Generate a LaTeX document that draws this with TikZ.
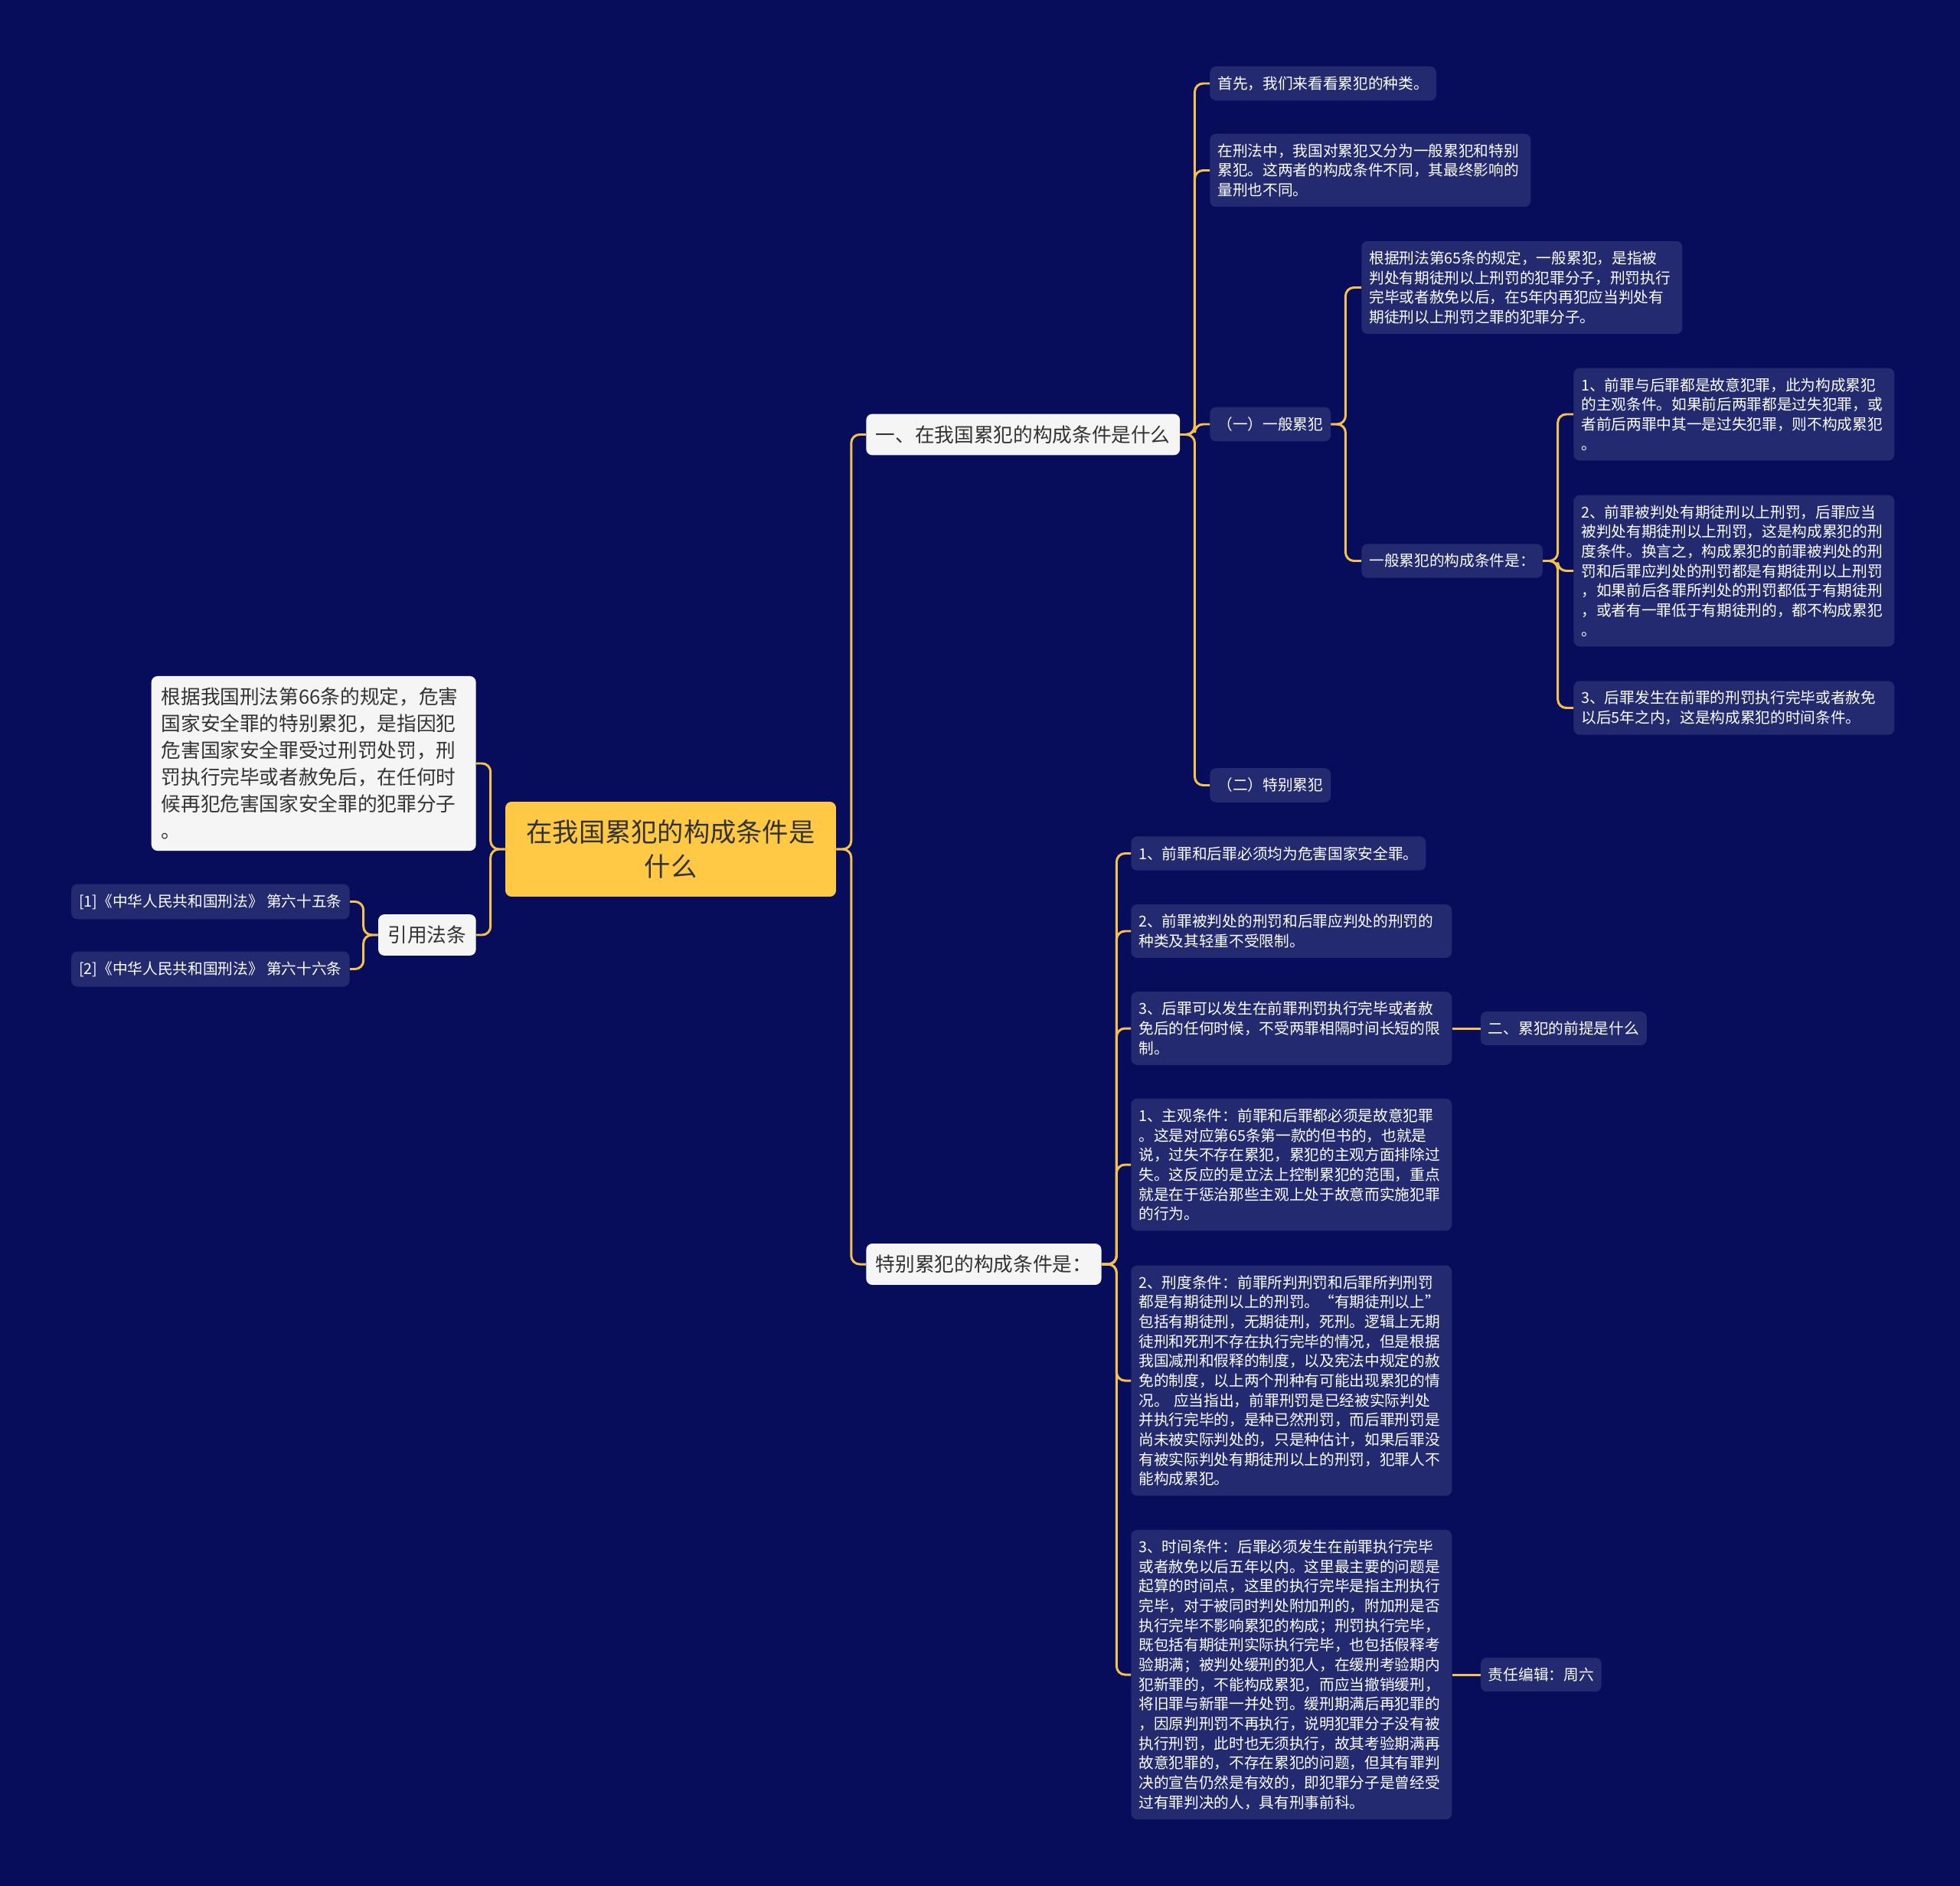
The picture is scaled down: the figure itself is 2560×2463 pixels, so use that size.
\documentclass[tikz,border=0pt]{standalone}
\usepackage{fontspec}
\setmainfont{Noto Sans CJK SC}
\usepackage{xcolor}
\definecolor{mapnavy}{HTML}{070D5B}
\definecolor{mapleaf}{HTML}{232A70}
\definecolor{mapgold}{HTML}{F2C14E}
\definecolor{mapwhite}{HTML}{F5F5F5}
\definecolor{mapink}{HTML}{333333}
\definecolor{maproot}{HTML}{FFC845}
\usepackage{tikz}
\usetikzlibrary{positioning}
\newcommand{\leaffont}{\fontsize{11.2}{14.6}\selectfont}
\newcommand{\topicfont}{\fontsize{14.6}{19.9}\selectfont}
\newcommand{\rootfont}{\fontsize{19.5}{26}\selectfont}

\begin{document}
\begin{tikzpicture}[x=0.02cm, y=-0.02cm,
  link/.style={draw=mapgold, line width=1.7pt, rounded corners=0.22cm},
  leaf/.style={fill=mapleaf, rounded corners=0.16cm, text=white, font=\leaffont,
    align=left, inner xsep=0.2cm, inner ysep=0.26cm, anchor=west},
  wide/.style={leaf, text width=7.98cm},
  topic/.style={fill=mapwhite, rounded corners=0.16cm, text=mapink, font=\topicfont,
    align=left, inner xsep=0.25cm, inner ysep=0.3cm}
]
\fill[mapnavy] (0,0) rectangle (2560,2463);

% centre
\node[fill=maproot, rounded corners=0.16cm, text=mapink, font=\rootfont, align=center,
  minimum width=8.64cm, minimum height=2.48cm] (root) at (876,1109) {在我国累犯的构成条件是\\什么};

% left side
\node[topic, anchor=east, text width=7.96cm, inner xsep=0.26cm] (note66) at (622,997) {根据我国刑法第66条的规定，危害\\国家安全罪的特别累犯，是指因犯\\危害国家安全罪受过刑罚处罚，刑\\罚执行完毕或者赦免后，在任何时\\候再犯危害国家安全罪的犯罪分子\\。};
\node[topic, anchor=east] (cite) at (622,1221) {引用法条};
\node[leaf, anchor=east] (law65) at (457,1177.5) {[1]《中华人民共和国刑法》 第六十五条};
\node[leaf, anchor=east] (law66) at (457,1265.5) {[2]《中华人民共和国刑法》 第六十六条};

% upper branch
\node[topic, anchor=west] (q1) at (1131,567.5) {一、在我国累犯的构成条件是什么};
\node[leaf] (kinds) at (1580,109) {首先，我们来看看累犯的种类。};
\node[wide] (split) at (1580,222.5) {在刑法中，我国对累犯又分为一般累犯和特别\\累犯。这两者的构成条件不同，其最终影响的\\量刑也不同。};
\node[leaf] (general) at (1580,554) {（一）一般累犯};
\node[leaf] (special) at (1580,1025.5) {（二）特别累犯};
\node[wide] (gdef) at (1778,375.5) {根据刑法第65条的规定，一般累犯，是指被\\判处有期徒刑以上刑罚的犯罪分子，刑罚执行\\完毕或者赦免以后，在5年内再犯应当判处有\\期徒刑以上刑罚之罪的犯罪分子。};
\node[leaf] (gcond) at (1778,732.5) {一般累犯的构成条件是：};
\node[wide] (gc1) at (2055,541) {1、前罪与后罪都是故意犯罪，此为构成累犯\\的主观条件。如果前后两罪都是过失犯罪，或\\者前后两罪中其一是过失犯罪，则不构成累犯\\。};
\node[wide] (gc2) at (2055,745.5) {2、前罪被判处有期徒刑以上刑罚，后罪应当\\被判处有期徒刑以上刑罚，这是构成累犯的刑\\度条件。换言之，构成累犯的前罪被判处的刑\\罚和后罪应判处的刑罚都是有期徒刑以上刑罚\\，如果前后各罪所判处的刑罚都低于有期徒刑\\，或者有一罪低于有期徒刑的，都不构成累犯\\。};
\node[wide] (gc3) at (2055,924.5) {3、后罪发生在前罪的刑罚执行完毕或者赦免\\以后5年之内，这是构成累犯的时间条件。};

% lower branch
\node[topic, anchor=west] (q2) at (1131,1651) {特别累犯的构成条件是：};
\node[leaf] (s1) at (1477,1114.5) {1、前罪和后罪必须均为危害国家安全罪。};
\node[wide] (s2) at (1477,1216) {2、前罪被判处的刑罚和后罪应判处的刑罚的\\种类及其轻重不受限制。};
\node[wide] (s3) at (1477,1343) {3、后罪可以发生在前罪刑罚执行完毕或者赦\\免后的任何时候，不受两罪相隔时间长短的限\\制。};
\node[leaf, right=0.74cm of s3] (premise) {二、累犯的前提是什么};
\node[wide] (t1) at (1477,1521) {1、主观条件：前罪和后罪都必须是故意犯罪\\。这是对应第65条第一款的但书的，也就是\\说，过失不存在累犯，累犯的主观方面排除过\\失。这反应的是立法上控制累犯的范围，重点\\就是在于惩治那些主观上处于故意而实施犯罪\\的行为。};
\node[wide] (t2) at (1477,1803) {2、刑度条件：前罪所判刑罚和后罪所判刑罚\\都是有期徒刑以上的刑罚。“有期徒刑以上”\\包括有期徒刑，无期徒刑，死刑。逻辑上无期\\徒刑和死刑不存在执行完毕的情况，但是根据\\我国减刑和假释的制度，以及宪法中规定的赦\\免的制度，以上两个刑种有可能出现累犯的情\\况。 应当指出，前罪刑罚是已经被实际判处\\并执行完毕的，是种已然刑罚，而后罪刑罚是\\尚未被实际判处的，只是种估计，如果后罪没\\有被实际判处有期徒刑以上的刑罚，犯罪人不\\能构成累犯。};
\node[wide] (t3) at (1477,2187) {3、时间条件：后罪必须发生在前罪执行完毕\\或者赦免以后五年以内。这里最主要的问题是\\起算的时间点，这里的执行完毕是指主刑执行\\完毕，对于被同时判处附加刑的，附加刑是否\\执行完毕不影响累犯的构成；刑罚执行完毕，\\既包括有期徒刑实际执行完毕，也包括假释考\\验期满；被判处缓刑的犯人，在缓刑考验期内\\犯新罪的，不能构成累犯，而应当撤销缓刑，\\将旧罪与新罪一并处罚。缓刑期满后再犯罪的\\，因原判刑罚不再执行，说明犯罪分子没有被\\执行刑罚，此时也无须执行，故其考验期满再\\故意犯罪的，不存在累犯的问题，但其有罪判\\决的宣告仍然是有效的，即犯罪分子是曾经受\\过有罪判决的人，具有刑事前科。};
\node[leaf, right=0.74cm of t3] (editor) {责任编辑：周六};

% connectors
\draw[link] (root.east) -- ++(19.5,0) |- (q1.west);
\draw[link] (root.east) -- ++(19.5,0) |- (q2.west);
\draw[link] (root.west) -- ++(-19,0) |- (note66.east);
\draw[link] (root.west) -- ++(-19,0) |- (cite.east);
\draw[link] (cite.west) -- ++(-19,0) |- (law65.east);
\draw[link] (cite.west) -- ++(-19,0) |- (law66.east);
\draw[link] (q1.east) -- ++(19,0) |- (kinds.west);
\draw[link] (q1.east) -- ++(19,0) |- (split.west);
\draw[link] (q1.east) -- ++(19,0) |- (general.west);
\draw[link] (q1.east) -- ++(19,0) |- (special.west);
\draw[link] (general.east) -- ++(19,0) |- (gdef.west);
\draw[link] (general.east) -- ++(19,0) |- (gcond.west);
\draw[link] (gcond.east) -- ++(19.5,0) |- (gc1.west);
\draw[link] (gcond.east) -- ++(19.5,0) |- (gc2.west);
\draw[link] (gcond.east) -- ++(19.5,0) |- (gc3.west);
\draw[link] (q2.east) -- ++(19.5,0) |- (s1.west);
\draw[link] (q2.east) -- ++(19.5,0) |- (s2.west);
\draw[link] (q2.east) -- ++(19.5,0) |- (s3.west);
\draw[link] (q2.east) -- ++(19.5,0) |- (t1.west);
\draw[link] (q2.east) -- ++(19.5,0) |- (t2.west);
\draw[link] (q2.east) -- ++(19.5,0) |- (t3.west);
\draw[link] (s3) -- (premise);
\draw[link] (t3) -- (editor);
\end{tikzpicture}
\end{document}
